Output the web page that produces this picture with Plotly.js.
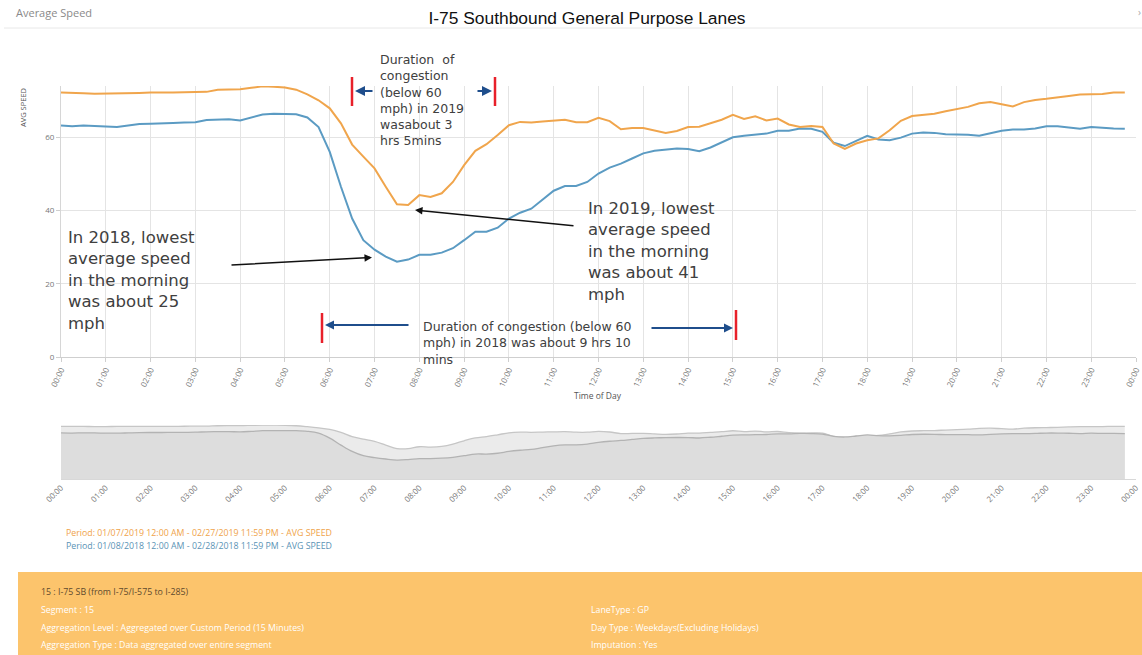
<!DOCTYPE html>
<html><head><meta charset="utf-8">
<script src="https://cdn.plot.ly/plotly-3.0.1.min.js"></script>
<style>html,body{margin:0;padding:0;background:#fff;} #chart{width:1142px;height:655px;}</style>
</head><body><div id="chart"></div>
<script>
// Average speed (mph) every 15 minutes, 00:00 .. 23:45
const speed2019 = [
  72.2,72.0,72.0,71.9, 71.9,72.0,72.0,72.1, 72.2,72.1,72.2,72.3, 72.4,72.4,73.0,73.1,
  73.1,73.5,73.9,73.8, 73.6,73.0,71.7,70.1, 67.9,63.8,58.0,54.7, 51.5,46.5,41.7,41.5,
  44.2,43.7,44.7,47.8, 52.4,56.3,58.1,60.6, 63.3,64.2,64.0,64.3, 64.6,64.8,64.1,64.1,
  65.3,64.4,62.2,62.5, 62.5,61.8,61.2,61.7, 62.8,62.9,63.9,64.8, 66.1,65.0,65.7,64.6,
  65.1,63.5,62.8,63.1, 62.8,58.3,56.8,58.3, 59.2,59.7,61.9,64.5, 65.8,66.2,66.4,67.1,
  67.6,68.3,69.3,69.6, 69.0,68.4,69.6,70.2, 70.5,70.8,71.3,71.7, 71.8,71.8,72.2,72.2
];
const speed2018 = [
  63.2,63.0,63.2,63.1, 62.8,62.8,63.2,63.6, 63.7,63.7,63.9,64.0, 64.1,64.7,64.8,64.9,
  64.6,65.3,66.2,66.4, 66.4,66.3,65.4,62.8, 56.0,46.5,37.8,31.9, 29.3,27.4,26.0,26.6,
  27.9,27.9,28.5,29.7, 31.9,34.2,34.2,35.3, 37.8,39.4,40.5,43.0, 45.4,46.7,46.7,47.8,
  50.1,51.7,52.8,54.2, 55.6,56.3,56.7,56.9, 56.8,56.2,57.2,58.6, 60.0,60.4,60.7,61.0,
  61.8,61.8,62.4,62.3, 61.5,58.5,57.6,58.9, 60.4,59.4,59.2,59.9, 61.0,61.3,61.2,60.8,
  60.8,60.7,60.4,61.2, 61.8,62.1,62.1,62.4, 63.0,63.0,62.7,62.3, 62.8,62.5,62.4,62.3
];
const seriesNames = [
  'Period: 01/07/2019 12:00 AM - 02/27/2019 11:59 PM - AVG SPEED',
  'Period: 01/08/2018 12:00 AM - 02/28/2018 11:59 PM - AVG SPEED'
];
const yTicks = [0, 20, 40, 60];
const infoLeft = ['Segment : 15', 'Aggregation Level : Aggregated over Custom Period (15 Minutes)', 'Aggregation Type : Data aggregated over entire segment'];
const infoRight = ['LaneType : GP', 'Day Type : Weekdays(Excluding Holidays)', 'Imputation : Yes'];
const infoHeader = '15 : I-75 SB (from I-75/I-575 to I-285)';

const times = speed2019.map((_, i) => {
  const h = String(Math.floor(i / 4)).padStart(2, '0');
  const m = String((i % 4) * 15).padStart(2, '0');
  return '2019-01-01 ' + h + ':' + m;
});

const ORANGE = '#F0A54C', BLUE = '#5B9BC3';
const L = 61, T = 86, W = 1075, H = 393;
const px = x => (x - L) / W;
const py = y => (T + H - y) / H;

const traces = [
  {x: times, y: speed2018, type: 'scatter', mode: 'lines', name: seriesNames[1], line: {color: BLUE, width: 2}, xaxis: 'x', yaxis: 'y'},
  {x: times, y: speed2019, type: 'scatter', mode: 'lines', name: seriesNames[0], line: {color: ORANGE, width: 2}, xaxis: 'x', yaxis: 'y'},
  {x: times, y: speed2019, type: 'scatter', mode: 'lines', fill: 'tozeroy', fillcolor: '#ebebeb', line: {color: '#c6c6c6', width: 1.3, shape: 'spline'}, xaxis: 'x2', yaxis: 'y2'},
  {x: times, y: speed2018, type: 'scatter', mode: 'lines', fill: 'tozeroy', fillcolor: '#dddddd', line: {color: '#b3b3b3', width: 1.3, shape: 'spline'}, xaxis: 'x2', yaxis: 'y2'}
];

const TXT = '#404040', ARW = '#1F4E8C', RED = '#E8202A';
const annFont = {family: 'DejaVu Sans', size: 16.5, color: TXT};
const smallFont = {family: 'DejaVu Sans', size: 12.5, color: TXT};
const infoSize = 8.8;

const annotations = [
  {xref: 'paper', yref: 'paper', x: px(14), y: py(12), xanchor: 'left', yanchor: 'middle', showarrow: false, text: 'Average Speed', font: {family: 'Open Sans', size: 11, color: '#8a8a8a'}},
  {xref: 'paper', yref: 'paper', x: px(1139), y: py(12), xanchor: 'center', yanchor: 'middle', showarrow: false, text: '›', font: {family: 'Open Sans', size: 10, color: '#aaa'}},
  {xref: 'paper', yref: 'paper', x: px(23), y: py(108), xanchor: 'center', yanchor: 'middle', showarrow: false, textangle: -90, text: 'AVG SPEED', font: {family: 'Open Sans', size: 7.5, color: '#555'}},
  {xref: 'paper', yref: 'paper', x: px(598), y: py(395), xanchor: 'center', yanchor: 'middle', showarrow: false, text: 'Time of Day', font: {family: 'Open Sans', size: 8.5, color: '#555'}},
  // text notes
  {xref: 'paper', yref: 'paper', x: px(378), y: py(99.5), xanchor: 'left', yanchor: 'middle', align: 'left', showarrow: false, font: smallFont,
   text: 'Duration  of<br>congestion<br>(below 60<br>mph) in 2019<br>wasabout 3<br>hrs 5mins'},
  {xref: 'paper', yref: 'paper', x: px(66), y: py(280), xanchor: 'left', yanchor: 'middle', align: 'left', showarrow: false, font: annFont,
   text: 'In 2018, lowest<br>average speed<br>in the morning<br>was about 25<br>mph'},
  {xref: 'paper', yref: 'paper', x: px(586), y: py(251.5), xanchor: 'left', yanchor: 'middle', align: 'left', showarrow: false, font: annFont,
   text: 'In 2019, lowest<br>average speed<br>in the morning<br>was about 41<br>mph'},
  {xref: 'paper', yref: 'paper', x: px(421), y: py(343), xanchor: 'left', yanchor: 'middle', align: 'left', showarrow: false, font: smallFont,
   text: 'Duration of congestion (below 60<br>mph) in 2018 was about 9 hrs 10<br>mins'},
  // arrows
  {xref: 'paper', yref: 'paper', x: px(355), y: py(91), ax: 19, ay: 0, text: '', showarrow: true, arrowhead: 2, arrowsize: 1, arrowwidth: 2, arrowcolor: ARW},
  {xref: 'paper', yref: 'paper', x: px(492), y: py(91), ax: -16, ay: 0, text: '', showarrow: true, arrowhead: 2, arrowsize: 1, arrowwidth: 2, arrowcolor: ARW},
  {xref: 'paper', yref: 'paper', x: px(325), y: py(325), ax: 85, ay: 0, text: '', showarrow: true, arrowhead: 2, arrowsize: 1, arrowwidth: 1.8, arrowcolor: ARW},
  {xref: 'paper', yref: 'paper', x: px(733), y: py(328), ax: -83, ay: 0, text: '', showarrow: true, arrowhead: 2, arrowsize: 1, arrowwidth: 1.8, arrowcolor: ARW},
  {xref: 'paper', yref: 'paper', x: px(372), y: py(257.5), ax: -142, ay: 7.5, text: '', showarrow: true, arrowhead: 2, arrowsize: 1, arrowwidth: 1.5, arrowcolor: '#111'},
  {xref: 'paper', yref: 'paper', x: px(415), y: py(210), ax: 160, ay: 16, text: '', showarrow: true, arrowhead: 2, arrowsize: 1, arrowwidth: 1.5, arrowcolor: '#111'},
  // series labels
  {xref: 'paper', yref: 'paper', x: px(64), y: py(533), xanchor: 'left', yanchor: 'middle', showarrow: false, text: seriesNames[0], font: {family: 'Open Sans', size: infoSize, color: '#EFA34A'}},
  {xref: 'paper', yref: 'paper', x: px(64), y: py(546), xanchor: 'left', yanchor: 'middle', showarrow: false, text: seriesNames[1], font: {family: 'Open Sans', size: infoSize, color: '#5A93B5'}},
  // footer info
  {xref: 'paper', yref: 'paper', x: px(39), y: py(592), xanchor: 'left', yanchor: 'middle', showarrow: false, text: infoHeader, font: {family: 'Open Sans', size: infoSize, color: '#5e4a2c'}}
];
infoLeft.forEach((t, i) => annotations.push({xref: 'paper', yref: 'paper', x: px(39), y: py(610 + i * 17.5), xanchor: 'left', yanchor: 'middle', showarrow: false, text: t, font: {family: 'Open Sans', size: infoSize, color: '#ffffff'}}));
infoRight.forEach((t, i) => annotations.push({xref: 'paper', yref: 'paper', x: px(589), y: py(610 + i * 17.5), xanchor: 'left', yanchor: 'middle', showarrow: false, text: t, font: {family: 'Open Sans', size: infoSize, color: '#ffffff'}}));

const shapes = [
  {type: 'line', xref: 'paper', yref: 'paper', x0: px(4), x1: px(1142), y0: py(28), y1: py(28), line: {color: '#e8e8e8', width: 1}},
  {type: 'rect', xref: 'paper', yref: 'paper', x0: px(18), x1: px(1142), y0: py(572), y1: py(656), fillcolor: '#FCC46C', line: {width: 0}, layer: 'below'},
  {type: 'line', xref: 'paper', yref: 'paper', x0: px(352), x1: px(352), y0: py(77), y1: py(106), line: {color: RED, width: 2.5}},
  {type: 'line', xref: 'paper', yref: 'paper', x0: px(495), x1: px(495), y0: py(77), y1: py(106), line: {color: RED, width: 2.5}},
  {type: 'line', xref: 'paper', yref: 'paper', x0: px(322), x1: px(322), y0: py(313), y1: py(343), line: {color: RED, width: 2.5}},
  {type: 'line', xref: 'paper', yref: 'paper', x0: px(736), x1: px(736), y0: py(310), y1: py(340), line: {color: RED, width: 2.5}}
];

const tickFont = {family: 'Open Sans', size: 8, color: '#777'};
const layout = {
  width: 1142, height: 655,
  margin: {l: L, r: 1142 - L - W, t: T, b: 655 - T - H},
  paper_bgcolor: '#fff', plot_bgcolor: '#fff',
  showlegend: false, hovermode: false,
  title: {text: 'I-75 Southbound General Purpose Lanes', xref: 'container', yref: 'container', x: 587 / 1142, y: 1 - 18 / 655, xanchor: 'center', yanchor: 'middle',
          font: {family: 'Liberation Sans, Arial', size: 17.4, color: '#111'}},
  xaxis: {type: 'date', domain: [0, 1], anchor: 'y', range: ['2019-01-01 00:00', '2019-01-02 00:00'], tickformat: '%H:%M', dtick: 3600000, tick0: '2019-01-01 00:00',
          tickangle: -65, tickfont: tickFont, showgrid: true, gridcolor: '#e4e4e4', showline: true, linecolor: '#cfcfcf', ticks: 'outside', ticklen: 4, tickcolor: '#cfcfcf', zeroline: false},
  yaxis: {domain: [py(357), 1], anchor: 'x', range: [0, 74], tickvals: yTicks, tickfont: tickFont, showgrid: true, gridcolor: '#e4e4e4', showline: true, linecolor: '#d6d6d6',
          ticks: 'outside', ticklen: 4, tickcolor: '#cfcfcf', zeroline: false},
  xaxis2: {type: 'date', domain: [0, 1], anchor: 'y2', range: ['2019-01-01 00:00', '2019-01-02 00:00'], tickformat: '%H:%M', dtick: 3600000, tick0: '2019-01-01 00:00',
           tickangle: -45, tickfont: tickFont, showgrid: false, showline: true, linecolor: '#d8d8d8', ticks: '', zeroline: false},
  yaxis2: {domain: [0, py(425)], anchor: 'x2', range: [0, 74], visible: false},
  annotations: annotations,
  shapes: shapes
};

Plotly.newPlot('chart', traces, layout, {displayModeBar: false, staticPlot: true});
</script>
</body></html>
